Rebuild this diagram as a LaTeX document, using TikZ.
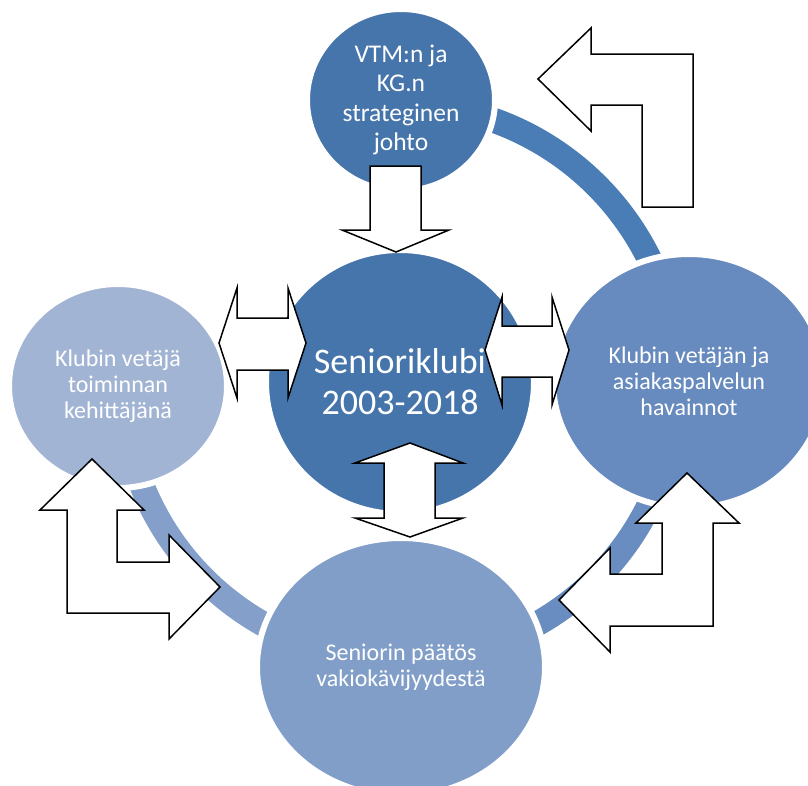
\documentclass[tikz,border=0pt]{standalone}
\usepackage{fontspec}
\setmainfont{Carlito}
\usetikzlibrary{shapes.geometric}
\definecolor{deepblue}{RGB}{70,117,171}
\definecolor{midblue}{RGB}{103,139,190}
\definecolor{softblue}{RGB}{129,158,200}
\definecolor{paleblue}{RGB}{162,180,212}
\definecolor{ringone}{RGB}{74,124,182}
\definecolor{ringtwo}{RGB}{105,141,193}
\definecolor{ringthree}{RGB}{132,160,202}
\newcommand{\smalltext}{\fontsize{24}{26}\selectfont}

\begin{document}
\begin{tikzpicture}[x=1pt,y=1pt,
        bub/.style={ellipse, draw=white, line width=6pt, inner sep=0pt, outer sep=0pt,
                text=white, align=center},
        ringarc/.style={line width=25pt},
        blockarrow/.style={draw=black, fill=white, line width=1.5pt}]
        \useasboundingbox (0,0) rectangle (808,-785);

        % ring pieces first, the bubbles cover their ends
        \coordinate (hub) at (400,-382);
        \draw[ringarc, ringone] (hub) ++(80:278) arc[start angle=80, end angle=15, radius=278];
        \draw[ringarc, ringtwo] (hub) ++(-15:278) arc[start angle=-15, end angle=-75, radius=278];
        \draw[ringarc, ringthree] (hub) ++(-105:278) arc[start angle=-105, end angle=-170, radius=278];

        % bubbles
        \node[bub, fill=deepblue, minimum width=188pt, minimum height=182pt, font=\fontsize{25.5}{29.5}\selectfont]
                (vtm) at (401,-100) {VTM:n ja\\KG.n\\strateginen\\johto};
        \node[bub, fill=deepblue, minimum width=268pt, minimum height=264pt, font=\fontsize{36}{41}\selectfont]
                (core) at (400,-382) {Senioriklubi\\2003-2018};
        \node[bub, fill=paleblue, minimum width=218pt, minimum height=204pt, font=\smalltext]
                (leader) at (118,-386) {Klubin vetäjä\\toiminnan\\kehittäjänä};
        \node[bub, fill=midblue, minimum width=272pt, minimum height=254pt, font=\smalltext]
                (service) at (689,-381) {Klubin vetäjän ja\\asiakaspalvelun\\havainnot};
        \node[bub, fill=softblue, minimum width=288pt, minimum height=258pt, font=\smalltext]
                (senior) at (401,-667) {Seniorin päätös\\vakiokävijyydestä};

        % straight block arrows
        \draw[blockarrow] (370,-166) -- (421,-166) -- (421,-230) -- (449,-230) -- (396,-252) -- (342,-230) -- (370,-230) -- cycle;
        \draw[blockarrow] (219,-343) -- (237,-288) -- (237,-318) -- (288,-318) -- (288,-288) -- (306,-343)
                -- (288,-398) -- (288,-370) -- (237,-370) -- (237,-398) -- cycle;
        \draw[blockarrow] (485,-350) -- (502,-297) -- (502,-326) -- (552,-326) -- (552,-297) -- (569,-350)
                -- (552,-405) -- (552,-377) -- (502,-377) -- (502,-405) -- cycle;
        \draw[blockarrow] (410,-443) -- (463,-463) -- (435,-463) -- (435,-518) -- (463,-518) -- (410,-537)
                -- (355,-518) -- (384,-518) -- (384,-463) -- (355,-463) -- cycle;

        % bent block arrows
        \draw[blockarrow] (538,-79) -- (591,-28) -- (591,-54) -| (693,-207) -| (642,-105) -| (591,-131) -- cycle;
        \draw[blockarrow] (92,-459) -- (144,-510) -- (117,-510) |- (169,-562) -- (169,-535) -- (220,-587)
                -- (169,-639) -- (169,-613) -| (67,-510) -- (40,-510) -- cycle;
        \draw[blockarrow] (687,-473) -- (739,-523) -- (713,-523) |- (610,-626) -- (610,-652) -- (559,-600)
                -- (610,-548) -- (610,-574) -| (662,-523) -- (636,-523) -- cycle;
\end{tikzpicture}
\end{document}
